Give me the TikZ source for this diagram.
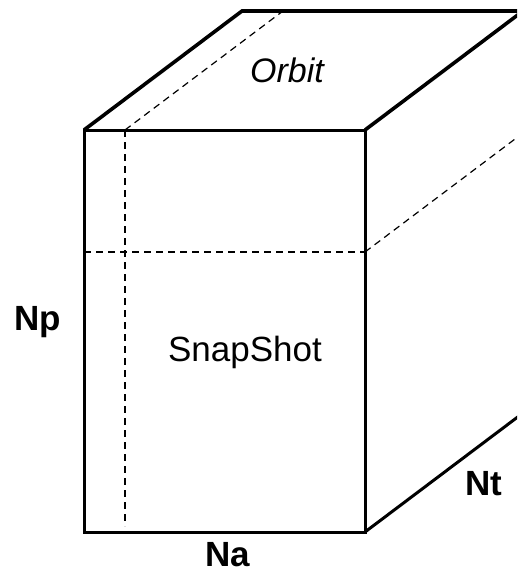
\documentclass[tikz,border=0pt]{standalone}
\usepackage{fontspec}
\setmainfont{Liberation Sans}
\begin{document}
\begin{tikzpicture}[x=1pt,y=-1pt,
  edge/.style={line width=3pt,line join=miter,line cap=butt},
  topedge/.style={line width=3.6pt,line cap=butt},
  hidden/.style={line width=1.2pt,dash pattern=on 7pt off 5pt},
  lbl/.style={font=\fontsize{35}{38}\selectfont},
  dim/.style={font=\fontsize{35}{38}\selectfont\bfseries}]
\useasboundingbox (0,0) rectangle (517,573);
\clip (0,0) rectangle (517,573);
% corners
\coordinate (ftl) at (84,130);
\coordinate (ftr) at (365,130);
\coordinate (fbl) at (84,532);
\coordinate (fbr) at (365,532);
\coordinate (btl) at (242,11);
\coordinate (btr) at (523,11);
\coordinate (bbr) at (523,413);
% dashed cut points
\coordinate (vt) at (125,130);
\coordinate (vb) at (125,526);
\coordinate (vbk) at (283,11);
\coordinate (hl) at (84,252);
\coordinate (hr) at (365,252);
\coordinate (hbk) at (523,133);
% hidden lines
\draw[hidden] (vt) -- (vb);
\draw[hidden] (vt) -- (vbk);
\draw[hidden] (hl) -- (hr);
\draw[hidden] (hr) -- (hbk);
% front face
\draw[edge] (ftl) -- (ftr) -- (fbr) -- (fbl) -- cycle;
% top face
\draw[topedge] (ftl) -- (btl) -- (btr);
\draw[topedge] (ftr) -- (btr);
% right face
\draw[edge] (fbr) -- (bbr);
% labels
\node[font=\fontsize{34}{37}\selectfont\itshape] (orbit) at (287,70) {Orbit};
\node[lbl] (snap) at (245,352) {SnapShot};
\node[dim] (np) at (38,322) {Np};
\node[dim] (na) at (228,555) {Na};
\node[dim] (nt) at (484,484) {Nt};
\end{tikzpicture}
\end{document}
